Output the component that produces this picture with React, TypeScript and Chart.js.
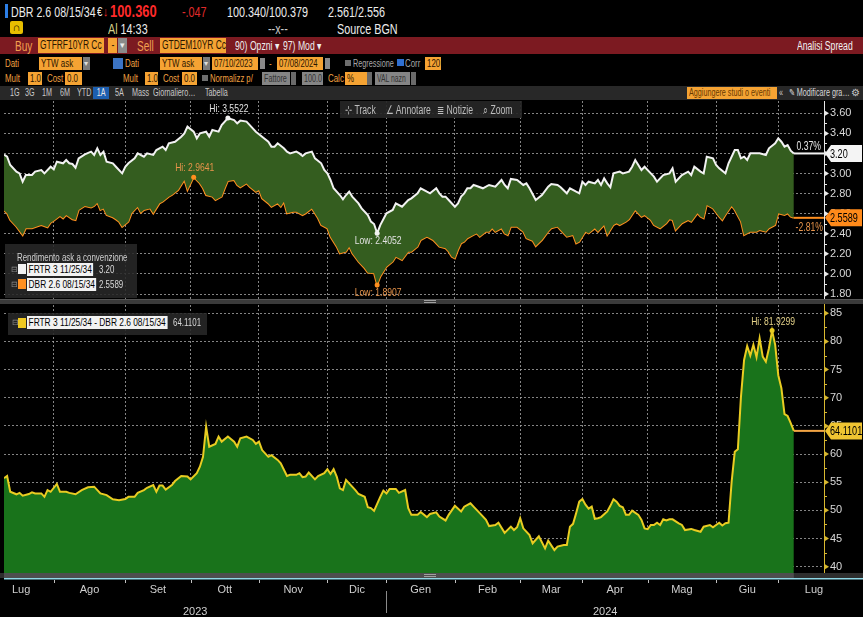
import React, { useEffect, useRef } from 'react';
import { Chart, registerables } from 'chart.js';

Chart.register(...registerables);

// Business-day index (TARGET calendar), day 0 = 10 Jul 2023, last = 8 Jul 2024
const frtrYield: [number, number][] = [
  [0, 3.1882], [1, 3.168], [2, 3.085], [4, 3.019], [5, 3.002], [6, 2.919], [7, 2.985], [9, 2.985],
  [10, 3.019], [12, 3.035], [13, 3.002], [15, 3.068], [16, 3.042], [17, 3.118], [19, 3.102], [20, 3.135],
  [21, 3.102], [22, 3.095], [23, 3.058], [24, 3.151], [26, 3.191], [28, 3.218], [29, 3.185], [30, 3.251],
  [31, 3.185], [32, 3.218], [33, 3.118], [35, 3.102], [36, 3.068], [38, 3.002], [39, 3.068], [40, 3.102],
  [42, 3.151], [43, 3.201], [45, 3.168], [46, 3.201], [48, 3.185], [49, 3.234], [51, 3.268], [52, 3.234],
  [53, 3.301], [55, 3.317], [57, 3.367], [58, 3.4], [59, 3.467], [61, 3.417], [62, 3.351], [63, 3.4],
  [65, 3.417], [66, 3.367], [67, 3.434], [69, 3.417], [70, 3.483], [72, 3.5522], [74, 3.533], [75, 3.5],
  [76, 3.527], [78, 3.517], [80, 3.45], [81, 3.417], [83, 3.367], [85, 3.317], [86, 3.268], [87, 3.268],
  [88, 3.301], [90, 3.251], [91, 3.218], [92, 3.201], [94, 3.218], [95, 3.201], [96, 3.175], [97, 3.201],
  [99, 3.218], [100, 3.151], [102, 3.102], [103, 3.035], [104, 3.002], [105, 2.936], [106, 2.853], [108, 2.786],
  [109, 2.743], [110, 2.786], [111, 2.819], [112, 2.77], [114, 2.703], [115, 2.653], [117, 2.587], [118, 2.521],
  [119, 2.497], [120, 2.4052], [121, 2.487], [123, 2.604], [125, 2.637], [126, 2.703], [128, 2.67], [130, 2.736],
  [131, 2.753], [133, 2.803], [134, 2.853], [136, 2.819], [137, 2.803], [139, 2.853], [140, 2.803], [141, 2.77],
  [142, 2.77], [143, 2.736], [145, 2.67], [146, 2.703], [147, 2.77], [148, 2.803], [149, 2.853], [150, 2.853],
  [151, 2.886], [152, 2.876], [154, 2.853], [155, 2.869], [156, 2.886], [158, 2.869], [160, 2.936], [161, 2.886],
  [162, 2.853], [163, 2.946], [165, 2.936], [167, 2.886], [168, 2.902], [169, 2.853], [171, 2.736], [173, 2.786],
  [175, 2.869], [176, 2.896], [178, 2.886], [179, 2.863], [181, 2.803], [182, 2.853], [184, 2.819], [185, 2.803],
  [186, 2.919], [187, 2.886], [188, 2.919], [190, 2.902], [191, 2.936], [192, 2.886], [193, 2.952], [194, 2.902],
  [195, 2.863], [196, 3.002], [198, 3.019], [199, 3.002], [201, 3.019], [202, 3.068], [203, 3.135], [205, 3.035],
  [206, 3.068], [208, 3.002], [209, 2.969], [210, 2.919], [212, 2.985], [214, 3.002], [215, 3.052], [216, 2.919],
  [218, 2.985], [220, 3.019], [221, 2.985], [222, 3.068], [224, 3.019], [225, 3.002], [226, 3.168], [228, 3.151],
  [229, 3.085], [230, 3.052], [232, 3.002], [233, 3.102], [235, 3.234], [236, 3.234], [237, 3.151], [238, 3.168],
  [239, 3.135], [240, 3.201], [242, 3.201], [243, 3.201], [245, 3.185], [246, 3.251], [248, 3.301], [249, 3.351],
  [250, 3.317], [251, 3.268], [252, 3.284], [253, 3.228], [254, 3.2],
];

const dbrYield: [number, number][] = [
  [0, 2.6329], [1, 2.604], [2, 2.537], [4, 2.471], [6, 2.388], [7, 2.454], [9, 2.454], [11, 2.477],
  [12, 2.487], [14, 2.464], [15, 2.511], [16, 2.531], [18, 2.577], [19, 2.554], [20, 2.587], [22, 2.544],
  [23, 2.537], [24, 2.637], [26, 2.677], [28, 2.663], [29, 2.677], [30, 2.71], [31, 2.637], [32, 2.653],
  [33, 2.587], [35, 2.564], [36, 2.544], [37, 2.521], [38, 2.471], [40, 2.521], [41, 2.604], [43, 2.67],
  [44, 2.61], [45, 2.637], [47, 2.653], [48, 2.604], [50, 2.703], [51, 2.72], [53, 2.77], [54, 2.786],
  [56, 2.836], [58, 2.936], [59, 2.836], [61, 2.9641], [63, 2.902], [64, 2.853], [65, 2.786], [67, 2.77],
  [68, 2.736], [70, 2.77], [71, 2.853], [72, 2.926], [74, 2.936], [75, 2.886], [76, 2.863], [78, 2.902],
  [79, 2.869], [81, 2.819], [82, 2.836], [83, 2.753], [85, 2.703], [86, 2.67], [88, 2.703], [89, 2.67],
  [90, 2.72], [91, 2.604], [93, 2.62], [94, 2.62], [96, 2.587], [97, 2.604], [99, 2.653], [101, 2.554],
  [102, 2.487], [104, 2.454], [105, 2.371], [107, 2.272], [108, 2.205], [110, 2.222], [111, 2.272], [112, 2.205],
  [114, 2.122], [116, 2.056], [117, 2.013], [119, 2.006], [120, 1.8907], [121, 1.973], [123, 2.072], [125, 2.122],
  [126, 2.172], [128, 2.139], [130, 2.222], [131, 2.222], [133, 2.272], [134, 2.338], [136, 2.371], [137, 2.355],
  [138, 2.338], [139, 2.305], [140, 2.272], [142, 2.255], [143, 2.222], [144, 2.172], [145, 2.155], [146, 2.238],
  [147, 2.305], [148, 2.321], [149, 2.355], [151, 2.388], [152, 2.404], [153, 2.371], [155, 2.421], [156, 2.421],
  [157, 2.454], [158, 2.421], [160, 2.454], [161, 2.404], [162, 2.388], [163, 2.471], [165, 2.471], [167, 2.421],
  [168, 2.355], [170, 2.331], [171, 2.278], [173, 2.338], [175, 2.421], [176, 2.454], [178, 2.471], [179, 2.438],
  [181, 2.371], [183, 2.388], [184, 2.305], [185, 2.321], [187, 2.421], [188, 2.404], [190, 2.454], [191, 2.421],
  [192, 2.454], [193, 2.487], [194, 2.388], [196, 2.487], [197, 2.504], [198, 2.487], [200, 2.521], [201, 2.544],
  [203, 2.637], [205, 2.57], [206, 2.587], [208, 2.537], [209, 2.487], [211, 2.454], [213, 2.504], [214, 2.544],
  [215, 2.537], [216, 2.438], [218, 2.504], [220, 2.537], [221, 2.521], [223, 2.604], [224, 2.57], [225, 2.554],
  [226, 2.687], [228, 2.653], [230, 2.57], [231, 2.537], [232, 2.587], [234, 2.677], [235, 2.637], [237, 2.521],
  [238, 2.388], [240, 2.421], [242, 2.421], [243, 2.438], [245, 2.421], [246, 2.454], [248, 2.487], [249, 2.604],
  [251, 2.587], [252, 2.604], [253, 2.57], [254, 2.5589],
];

// FRTR - DBR spread, basis points
const spreadBp: [number, number][] = [
  [0, 55.7], [1, 56.1], [2, 53.3], [4, 52.85], [5, 53.1], [6, 52.6], [8, 52.9], [9, 53.2],
  [10, 53.0], [12, 53.0], [13, 52.4], [14, 53.6], [15, 53.3], [17, 54.7], [18, 53.3], [20, 53.3],
  [21, 53.1], [23, 52.85], [25, 53.6], [27, 54.1], [29, 54.2], [31, 53.0], [33, 52.7], [35, 51.95],
  [37, 51.8], [39, 52.0], [40, 52.4], [42, 52.4], [43, 53.1], [45, 53.6], [46, 54.0], [48, 54.5],
  [49, 53.3], [50, 54.4], [51, 54.4], [52, 53.7], [54, 54.5], [55, 55.2], [57, 56.1], [59, 56.0],
  [60, 55.5], [62, 56.6], [63, 57.75], [64, 59.5], [65, 64.85], [66, 61.3], [68, 61.8], [69, 63.1],
  [70, 62.2], [72, 63.1], [74, 62.2], [75, 61.3], [76, 62.8], [78, 63.1], [80, 62.5], [81, 61.8],
  [82, 62.2], [83, 60.7], [85, 59.5], [86, 59.8], [88, 58.95], [89, 58.35], [91, 56.1], [92, 56.3],
  [94, 56.3], [95, 56.6], [96, 55.9], [97, 56.0], [98, 56.7], [100, 55.5], [101, 56.1], [103, 56.6],
  [104, 57.3], [105, 56.45], [106, 57.3], [107, 56.0], [108, 53.9], [109, 53.6], [110, 55.4], [111, 54.8],
  [113, 53.6], [114, 52.9], [116, 52.4], [117, 50.55], [118, 50.4], [119, 49.9], [121, 52.4], [122, 53.5],
  [123, 53.0], [124, 53.8], [126, 53.8], [127, 53.1], [129, 53.6], [130, 50.4], [131, 49.2], [133, 49.2],
  [134, 49.7], [136, 48.8], [137, 49.35], [139, 49.65], [140, 48.9], [142, 48.2], [143, 49.2], [145, 50.8],
  [147, 49.8], [148, 50.65], [150, 51.25], [151, 50.65], [153, 49.5], [155, 48.3], [156, 47.2], [158, 47.4],
  [159, 47.8], [161, 46.0], [163, 47.1], [164, 46.5], [165, 47.0], [166, 48.6], [167, 46.8], [169, 45.6],
  [170, 44.15], [172, 45.4], [174, 43.25], [175, 44.6], [177, 42.95], [178, 43.55], [180, 43.85], [181, 43.85],
  [182, 47.1], [183, 47.6], [184, 49.5], [185, 51.55], [186, 52.0], [187, 51.0], [188, 50.3], [189, 50.65],
  [190, 48.5], [191, 48.6], [192, 48.8], [194, 49.8], [195, 50.8], [196, 51.95], [197, 51.55], [198, 50.8],
  [199, 50.55], [200, 49.2], [201, 49.2], [202, 49.95], [204, 49.2], [205, 48.3], [206, 46.8], [207, 46.65],
  [208, 47.4], [209, 47.4], [210, 47.8], [211, 47.4], [212, 48.4], [213, 48.2], [214, 48.4], [215, 48.4],
  [217, 47.7], [218, 47.4], [219, 46.5], [221, 46.7], [222, 46.5], [224, 46.2], [225, 47.1], [227, 47.4],
  [228, 47.0], [230, 47.8], [231, 47.3], [232, 47.7], [233, 47.8], [234, 55.1], [235, 60.4], [236, 60.85],
  [237, 70.2], [238, 76.7], [239, 79.2], [240, 77.5], [241, 79.4], [242, 77.2], [243, 80.55], [244, 77.3],
  [245, 76.4], [246, 78.8], [247, 81.9299], [248, 79.4], [249, 74.0], [250, 71.7], [251, 67.1], [252, 66.75],
  [253, 65.5], [254, 64.1101],
];

// Calendar axis: first business day of each month, and month names
const monthStarts = [16, 39, 60, 82, 104, 123, 145, 166, 186, 207, 229, 249];
const monthEdges = [-5, ...monthStarts, 272];
const monthLabels = ['Lug', 'Ago', 'Set', 'Ott', 'Nov', 'Dic', 'Gen', 'Feb', 'Mar', 'Apr', 'Mag', 'Giu', 'Lug'];
const yearLabels = ['2023', '2024'];
const yieldTicks = [1.8, 2.0, 2.2, 2.4, 2.6, 2.8, 3.0, 3.2, 3.4, 3.6];
const spreadTicks = [40, 45, 50, 55, 60, 65, 70, 75, 80, 85];

const X_MAX = 263.7;
const YIELD_MIN = 1.7305;
const YIELD_MAX = 3.7225;
const BP_MIN = 38.87;
const BP_MAX = 87.18;

// Arial-metric face, horizontally condensed to a terminal-style narrow look
const FONT = "'Liberation Sans', Arial, sans-serif";
const K = 0.72;
const WHITE = '#f2f2f2';
const ORANGE = '#ff8f1f';
const YELLOW = '#e9cc22';
const GRID = 'rgba(165,165,165,0.8)';
const FILL_TOP = '#345d1f';
const FILL_BOT = '#19731b';
const FIELD = '#f5a333';
const LABEL_OR = '#f0a040';

const yearEdges = [0, 123, X_MAX];
const monthMids = monthEdges.slice(0, -1).map((b, i) => (b + monthEdges[i + 1]) / 2);
const yearMids = yearEdges.slice(0, -1).map((b, i) => (b + yearEdges[i + 1]) / 2);
const xTicks = [...monthStarts, ...monthMids].sort((a, b) => a - b);
const startSet = new Set(monthStarts);

const lastOf = (s: [number, number][]) => s[s.length - 1][1];
const firstOf = (s: [number, number][]) => s[0][1];
const toXY = (s: [number, number][]) => s.map(([x, y]) => ({ x, y }));
const pct = (s: [number, number][]) => ((lastOf(s) / firstOf(s) - 1) * 100).toFixed(2) + '%';

// condensed canvas text
const narrow = (ctx: any, text: string, x: number, y: number, k = K) => {
  ctx.save();
  ctx.translate(x, y);
  ctx.scale(k, 1);
  ctx.fillText(text, 0, 0);
  ctx.restore();
};

const decor = {
  id: 'decor',
  afterDatasetsDraw(chart: any) {
    const { ctx, chartArea: ca, scales } = chart;
    const { x, yT, yB } = scales;
    const endX = x.getPixelForValue(frtrYield[frtrYield.length - 1][0]);
    ctx.save();
    const hline = (y: number, color: string) => {
      ctx.strokeStyle = color;
      ctx.lineWidth = 2;
      ctx.beginPath();
      ctx.moveTo(endX, y);
      ctx.lineTo(ca.right, y);
      ctx.stroke();
    };
    const frY = yT.getPixelForValue(lastOf(frtrYield));
    const deY = yT.getPixelForValue(lastOf(dbrYield));
    hline(frY, WHITE);
    hline(deY, ORANGE);
    hline(yB.getPixelForValue(lastOf(spreadBp)), '#f2a444');

    ctx.textAlign = 'right';
    ctx.font = `12px ${FONT}`;
    ctx.textBaseline = 'bottom';
    ctx.fillStyle = '#e6e6e6';
    narrow(ctx, pct(frtrYield), ca.right - 3, frY - 1);
    ctx.textBaseline = 'top';
    ctx.fillStyle = '#e8944a';
    narrow(ctx, pct(dbrYield), ca.right - 1, deY + 4);
    ctx.restore();
  },
  afterDraw(chart: any) {
    const { ctx, chartArea: ca, scales, width } = chart;
    const { x, yT, yB } = scales;
    const endX = x.getPixelForValue(frtrYield[frtrYield.length - 1][0]);
    ctx.save();

    // panel divider with grip
    const dy = yT.bottom;
    ctx.fillStyle = '#3a3a3a';
    ctx.fillRect(0, dy - 2, width, 5);
    ctx.fillStyle = '#555';
    ctx.fillRect(0, dy - 2, width, 1);
    ctx.fillStyle = '#a0a0a0';
    ctx.fillRect(424, dy - 1, 12, 1);
    ctx.fillRect(424, dy + 1, 12, 1);

    // scroll bar under the lower panel
    ctx.fillStyle = '#2e2e2e';
    ctx.fillRect(0, ca.bottom, width, 5);
    ctx.fillStyle = '#4e4e4e';
    ctx.fillRect(ca.left, ca.bottom, endX - ca.left, 5);
    ctx.fillStyle = '#a0a0a0';
    ctx.fillRect(424, ca.bottom + 1, 12, 1);
    ctx.fillRect(424, ca.bottom + 3, 12, 1);
    ctx.fillStyle = '#8fd8e6';
    ctx.fillRect(ca.left, ca.bottom + 5, width - ca.left, 1.5);

    // month tick marks and year separator
    ctx.strokeStyle = '#c0c0c0';
    ctx.lineWidth = 1;
    monthStarts.forEach((m) => {
      const px = Math.round(x.getPixelForValue(m)) + 0.5;
      ctx.beginPath();
      ctx.moveTo(px, ca.bottom + 7);
      ctx.lineTo(px, ca.bottom + 10);
      ctx.stroke();
    });
    const sep = Math.round(x.getPixelForValue(yearEdges[1])) + 0.5;
    ctx.strokeStyle = '#8a8a8a';
    ctx.beginPath();
    ctx.moveTo(sep, ca.bottom + 18);
    ctx.lineTo(sep, ca.bottom + 40);
    ctx.stroke();

    // extremes: dot and label
    ctx.font = `11px ${FONT}`;
    ctx.textAlign = 'center';
    ctx.textBaseline = 'middle';
    const mark = (s: [number, number][], scale: any, kind: string, dot: string, tc: string) => {
      const vals = s.map((p) => p[1]);
      const v = kind === 'Hi' ? Math.max(...vals) : Math.min(...vals);
      const i = vals.indexOf(v);
      const px = x.getPixelForValue(s[i][0]);
      const py = scale.getPixelForValue(v);
      ctx.fillStyle = dot;
      ctx.beginPath();
      ctx.arc(px, py, 2.5, 0, Math.PI * 2);
      ctx.fill();
      ctx.fillStyle = tc;
      narrow(ctx, `${kind}: ${v.toFixed(4)}`, px + 1, kind === 'Hi' ? py - 9 : py + 8, 0.78);
    };
    mark(frtrYield, yT, 'Hi', WHITE, '#e2e2e2');
    mark(frtrYield, yT, 'Low', WHITE, '#e2e2e2');
    mark(dbrYield, yT, 'Hi', ORANGE, '#e8944a');
    mark(dbrYield, yT, 'Low', ORANGE, '#e8944a');
    mark(spreadBp, yB, 'Hi', YELLOW, '#e6d38a');

    // arrow tick markers on the value axes
    const axisMarks = (s: any, vals: number[], color: string) => {
      ctx.fillStyle = color;
      ctx.strokeStyle = color;
      vals.forEach((v, i) => {
        const py = s.getPixelForValue(v);
        ctx.beginPath();
        ctx.moveTo(ca.right + 1, py - 2.5);
        ctx.lineTo(ca.right + 5, py);
        ctx.lineTo(ca.right + 1, py + 2.5);
        ctx.closePath();
        ctx.fill();
        if (i < vals.length - 1) {
          const my = Math.round(s.getPixelForValue((v + vals[i + 1]) / 2)) + 0.5;
          ctx.beginPath();
          ctx.moveTo(ca.right, my);
          ctx.lineTo(ca.right + 3, my);
          ctx.stroke();
        }
      });
    };
    axisMarks(yT, yieldTicks, '#e8e8e8');
    axisMarks(yB, spreadTicks, '#d8b830');

    // last-value tags
    const tag = (y: number, text: string, bg: string) => {
      const l = ca.right + 1;
      const r = width - 1;
      const h = 17;
      ctx.fillStyle = bg;
      ctx.beginPath();
      ctx.moveTo(l, y);
      ctx.lineTo(l + 6, y - h / 2);
      ctx.lineTo(r, y - h / 2);
      ctx.lineTo(r, y + h / 2);
      ctx.lineTo(l + 6, y + h / 2);
      ctx.closePath();
      ctx.fill();
      ctx.fillStyle = '#000';
      ctx.font = `13px ${FONT}`;
      ctx.textAlign = 'left';
      ctx.textBaseline = 'middle';
      narrow(ctx, text, l + 5, y + 0.5, 0.7);
    };
    tag(yT.getPixelForValue(lastOf(frtrYield)), lastOf(frtrYield).toFixed(2), '#f4f4f4');
    tag(yT.getPixelForValue(lastOf(dbrYield)), lastOf(dbrYield).toFixed(4), '#ff8a1a');
    tag(yB.getPixelForValue(lastOf(spreadBp)), lastOf(spreadBp).toFixed(4), '#f0c432');
    ctx.restore();
  },
};

function T(p: any) {
  const s = p.s || 11;
  return (
    <div
      style={{
        position: 'absolute',
        left: p.x,
        top: p.y,
        fontSize: s,
        lineHeight: `${s + 2}px`,
        color: p.c || '#d0d0d0',
        whiteSpace: 'nowrap',
        fontWeight: p.b ? 'bold' : 'normal',
      }}
    >
      <span
        style={{
          display: 'inline-block',
          transform: `scaleX(${p.k ?? K})`,
          transformOrigin: '0 0',
          background: p.bg,
          padding: p.bg ? '0 2px' : 0,
        }}
      >
        {p.children}
      </span>
    </div>
  );
}

function Box(p: any) {
  const h = p.h || 13;
  return (
    <div
      style={{
        position: 'absolute',
        left: p.x,
        top: p.y,
        width: p.w,
        height: h,
        background: p.bg || FIELD,
        color: p.c || '#2b1500',
        fontSize: p.s || 11,
        lineHeight: `${h}px`,
        paddingLeft: p.pl ?? 2,
        boxSizing: 'border-box',
        overflow: 'hidden',
        whiteSpace: 'nowrap',
        textAlign: p.center ? 'center' : 'left',
        borderRadius: p.r || 0,
      }}
    >
      <span
        style={{
          display: 'inline-block',
          transform: `scaleX(${p.k ?? K})`,
          transformOrigin: p.center ? '50% 0' : '0 0',
        }}
      >
        {p.children}
      </span>
    </div>
  );
}

export default function App() {
  const ref = useRef<HTMLCanvasElement>(null);

  useEffect(() => {
    document.body.style.margin = '0';
    document.body.style.background = '#000';
    Chart.defaults.font.family = FONT;
    const chart = new Chart(ref.current as HTMLCanvasElement, {
      type: 'line',
      data: {
        datasets: [
          {
            label: 'FRTR 3 11/25/34',
            data: toXY(frtrYield),
            xAxisID: 'x',
            yAxisID: 'yT',
            borderColor: WHITE,
            backgroundColor: FILL_TOP,
            borderWidth: 2,
            pointRadius: 0,
            tension: 0,
            fill: '+1',
          },
          {
            label: 'DBR 2.6 08/15/34',
            data: toXY(dbrYield),
            xAxisID: 'x',
            yAxisID: 'yT',
            borderColor: ORANGE,
            borderWidth: 2,
            pointRadius: 0,
            tension: 0,
            fill: false,
          },
          {
            label: 'FRTR 3 11/25/34 - DBR 2.6 08/15/34',
            data: toXY(spreadBp),
            xAxisID: 'x',
            yAxisID: 'yB',
            borderColor: YELLOW,
            backgroundColor: FILL_BOT,
            borderWidth: 2,
            pointRadius: 0,
            tension: 0,
            fill: 'start',
          },
        ],
      } as any,
      options: {
        animation: false,
        responsive: false,
        layout: { padding: { left: 4, top: 1, right: 0, bottom: 0 } },
        plugins: { legend: { display: false }, tooltip: { enabled: false } },
        scales: {
          x: {
            type: 'linear',
            position: 'bottom',
            min: 0,
            max: X_MAX,
            afterBuildTicks: (s: any) => {
              s.ticks = xTicks.map((v) => ({ value: v }));
            },
            afterFit: (s: any) => {
              s.height = 23;
              s.paddingLeft = 0;
              s.paddingRight = 0;
            },
            ticks: {
              autoSkip: false,
              maxRotation: 0,
              padding: 10,
              color: '#cfcfcf',
              font: { size: 11 },
              callback: (v: any) => {
                const i = monthMids.indexOf(Number(v));
                return i >= 0 ? monthLabels[i] : '';
              },
            },
            grid: {
              drawTicks: false,
              color: (c: any) => (c.tick && startSet.has(c.tick.value) ? GRID : 'rgba(0,0,0,0)'),
            },
            border: { display: false, dash: [2, 2] },
          },
          xYear: {
            type: 'linear',
            position: 'bottom',
            min: 0,
            max: X_MAX,
            afterBuildTicks: (s: any) => {
              s.ticks = yearMids.map((v) => ({ value: v }));
            },
            afterFit: (s: any) => {
              s.height = 21;
              s.paddingLeft = 0;
              s.paddingRight = 0;
            },
            ticks: {
              autoSkip: false,
              maxRotation: 0,
              padding: 1,
              color: '#cfcfcf',
              font: { size: 11 },
              callback: (v: any) => {
                const i = yearMids.indexOf(Number(v));
                return i >= 0 ? yearLabels[i] : '';
              },
            },
            grid: { display: false },
            border: { display: false },
          },
          yT: {
            type: 'linear',
            position: 'right',
            stack: 'panels',
            stackWeight: 200,
            min: YIELD_MIN,
            max: YIELD_MAX,
            afterBuildTicks: (s: any) => {
              s.ticks = yieldTicks.map((v) => ({ value: v }));
            },
            afterFit: (s: any) => {
              s.width = 39;
              s.paddingTop = 0;
              s.paddingBottom = 0;
            },
            ticks: {
              autoSkip: false,
              padding: 6,
              color: '#d8d8d8',
              font: { size: 11 },
              callback: (v: any) => Number(v).toFixed(2),
            },
            grid: { drawTicks: false, color: GRID },
            border: { color: '#e8e8e8', width: 1, dash: [2, 2] },
          },
          yB: {
            type: 'linear',
            position: 'right',
            stack: 'panels',
            stackWeight: 272,
            min: BP_MIN,
            max: BP_MAX,
            afterBuildTicks: (s: any) => {
              s.ticks = spreadTicks.map((v) => ({ value: v }));
            },
            afterFit: (s: any) => {
              s.width = 39;
              s.paddingTop = 0;
              s.paddingBottom = 0;
            },
            ticks: {
              autoSkip: false,
              padding: 6,
              color: '#d8d8d8',
              font: { size: 11 },
              callback: (v: any) => String(v),
            },
            grid: { drawTicks: false, color: GRID },
            border: { color: '#d8b830', width: 1, dash: [2, 2] },
          },
        },
      } as any,
      plugins: [decor],
    });
    return () => chart.destroy();
  }, []);

  return (
    <div
      style={{
        position: 'fixed',
        left: 0,
        top: 0,
        width: 863,
        height: 617,
        background: '#000',
        overflow: 'hidden',
        fontFamily: FONT,
      }}
    >
      {/* quote line */}
      <div style={{ position: 'absolute', left: 5, top: 4, width: 3, height: 14, background: '#2d7fe6' }} />
      <T x={11} y={3} s={15} k={0.71} c="#ececec">DBR 2.6 08/15/34</T>
      <T x={97} y={5} s={12} k={0.8} c="#ececec">€</T>
      <T x={103} y={4} s={13} k={0.8} c="#ff2a2a">↓</T>
      <T x={110} y={2} s={17} k={0.76} c="#ff2a2a" b>100.360</T>
      <T x={182} y={3} s={15} c="#e02a2a">-.047</T>
      <T x={227} y={3} s={15} c="#ececec">100.340/100.379</T>
      <T x={328} y={3} s={15} c="#ececec">2.561/2.556</T>

      <Box x={10} y={21} w={13} h={13} bg="#e8bf00" c="#1a1200" s={11} r={2} center pl={0} k={1}>∩</Box>
      <T x={108} y={20} s={15} c="#ececec"><span style={{ color: '#d6d08a' }}>Al</span> 14:33</T>
      <T x={268} y={20} s={15} c="#c8c8c8">--x--</T>
      <T x={337} y={20} s={15} c="#ececec">Source BGN</T>

      {/* buy / sell bar */}
      <div style={{ position: 'absolute', left: 0, top: 37, width: 863, height: 17, background: '#7c1a21' }} />
      <T x={15} y={38} s={14} c="#f2a050">Buy</T>
      <Box x={38} y={38} w={66} h={15} s={12} k={0.7}>GTFRF10YR Cc</Box>
      <Box x={108} y={38} w={9} h={15} s={12} center pl={0}>-</Box>
      <Box x={118} y={38} w={9} h={15} s={9} bg="#8a8a8a" c="#eee" center pl={0} k={1}>▾</Box>
      <T x={137} y={38} s={14} c="#f2a050">Sell</T>
      <Box x={160} y={38} w={66} h={15} s={12} k={0.7}>GTDEM10YR Cc</Box>
      <T x={235} y={39} s={12} c="#eeeeee">90) Opzni ▾</T>
      <T x={283} y={39} s={12} c="#eeeeee">97) Mod ▾</T>
      <T x={797} y={39} s={12} c="#f2f2f2">Analisi Spread</T>

      {/* data selection rows */}
      <T x={5} y={57} c={LABEL_OR}>Dati</T>
      <Box x={39} y={57} w={43}>YTW ask</Box>
      <Box x={83} y={57} w={7} bg="#7a7a7a" c="#ddd" s={8} pl={1} k={1}>▾</Box>
      <div style={{ position: 'absolute', left: 113, top: 58, width: 10, height: 11, background: '#3c74c4' }} />
      <T x={125} y={57} c={LABEL_OR}>Dati</T>
      <Box x={160} y={57} w={42}>YTW ask</Box>
      <Box x={203} y={57} w={7} bg="#7a7a7a" c="#ddd" s={8} pl={1} k={1}>▾</Box>
      <Box x={212} y={57} w={46} k={0.7}>07/10/2023</Box>
      <Box x={260} y={58} w={5} h={11} bg="#8a8a8a" />
      <T x={269} y={57} c={LABEL_OR}>-</T>
      <Box x={277} y={57} w={46} k={0.7}>07/08/2024</Box>
      <Box x={325} y={58} w={5} h={11} bg="#8a8a8a" />
      <div style={{ position: 'absolute', left: 345, top: 60, width: 6, height: 6, background: '#6e6e6e' }} />
      <T x={353} y={57} k={0.66} c="#a8a8a8">Regressione</T>
      <div style={{ position: 'absolute', left: 397, top: 59, width: 7, height: 7, background: '#2f6fd0' }} />
      <T x={405} y={57} c="#a8a8a8">Corr</T>
      <Box x={425} y={57} w={16}>120</Box>

      <T x={5} y={72} c={LABEL_OR}>Mult</T>
      <Box x={28} y={72} w={14}>1.0</Box>
      <T x={47} y={72} c={LABEL_OR}>Cost</T>
      <Box x={65} y={72} w={17}>0.0</Box>
      <T x={123} y={72} c={LABEL_OR}>Mult</T>
      <Box x={145} y={72} w={13}>1.0</Box>
      <T x={163} y={72} c={LABEL_OR}>Cost</T>
      <Box x={182} y={72} w={15}>0.0</Box>
      <div style={{ position: 'absolute', left: 202, top: 75, width: 6, height: 6, background: '#6e6e6e' }} />
      <T x={210} y={72} k={0.7} c={LABEL_OR}>Normalizz p/</T>
      <Box x={262} y={72} w={28} bg="#858585" c="#333" s={10}>Fattore</Box>
      <Box x={291} y={72} w={5} bg="#6a6a6a" />
      <Box x={302} y={72} w={21} bg="#858585" c="#333" s={10}>100.0</Box>
      <T x={328} y={72} c={LABEL_OR}>Calc</T>
      <Box x={345} y={72} w={22}>%</Box>
      <Box x={367} y={72} w={5} bg="#6a6a6a" />
      <Box x={375} y={72} w={35} bg="#858585" c="#333" s={10} k={0.68}>VAL nazn</Box>
      <Box x={411} y={72} w={5} bg="#6a6a6a" />

      {/* range toolbar */}
      <div style={{ position: 'absolute', left: 0, top: 86, width: 863, height: 14, background: '#282828' }} />
      <T x={10} y={87} s={10} c="#c8c8c8">1G</T>
      <T x={25} y={87} s={10} c="#c8c8c8">3G</T>
      <T x={42} y={87} s={10} c="#c8c8c8">1M</T>
      <T x={60} y={87} s={10} c="#c8c8c8">6M</T>
      <T x={77} y={87} s={10} c="#c8c8c8">YTD</T>
      <Box x={93} y={87} w={16} h={12} bg="#1d5fb0" c="#e8e8e8" s={10} center pl={0}>1A</Box>
      <T x={115} y={87} s={10} c="#c8c8c8">5A</T>
      <T x={132} y={87} s={10} c="#c8c8c8">Mass</T>
      <T x={153} y={87} s={10} c="#c8c8c8">Giornaliero…</T>
      <T x={205} y={87} s={10} c="#c8c8c8">Tabella</T>
      <Box x={687} y={87} w={90} h={12} s={10} c="#6a3a00">Aggiungere studi o eventi</Box>
      <T x={779} y={87} s={10} c="#c8c8c8">«</T>
      <T x={789} y={87} s={10} c="#d8d8d8">✎ Modificare gra…</T>
      <T x={851} y={87} s={10} c="#c8c8c8" k={1}>⚙</T>

      <canvas ref={ref} width={863} height={517} style={{ position: 'absolute', left: 0, top: 100 }} />

      {/* chart tools */}
      <div style={{ position: 'absolute', left: 340, top: 101, width: 182, height: 17, background: 'rgba(38,38,38,0.92)' }} />
      <T x={345} y={103} s={12} c="#bdbdbd">⊹ Track</T>
      <T x={386} y={103} s={12} c="#bdbdbd">∠ Annotare</T>
      <T x={437} y={103} s={12} c="#bdbdbd">≣ Notizie</T>
      <T x={483} y={103} s={12} c="#bdbdbd">⌕ Zoom</T>

      {/* yield legend */}
      <div style={{ position: 'absolute', left: 5, top: 244, width: 132, height: 54, background: 'rgba(40,40,40,0.88)' }} />
      <T x={17} y={251} s={11} c="#d0d0d0">Rendimento ask a convenzione</T>
      <T x={11} y={265} s={8} c="#8a8a8a" k={1}>⊟</T>
      <div style={{ position: 'absolute', left: 18, top: 264, width: 8, height: 10, background: WHITE }} />
      <T x={27} y={263} s={11} k={0.76} c="#000" bg="#f2f2f2">FRTR 3 11/25/34</T>
      <T x={99} y={263} s={11} c="#d8d8d8">{lastOf(frtrYield).toFixed(2)}</T>
      <T x={11} y={280} s={8} c="#8a8a8a" k={1}>⊟</T>
      <div style={{ position: 'absolute', left: 18, top: 279, width: 8, height: 10, background: ORANGE }} />
      <T x={27} y={278} s={11} k={0.76} c="#000" bg="#f2f2f2">DBR 2.6 08/15/34</T>
      <T x={99} y={278} s={11} c="#d8d8d8">{lastOf(dbrYield).toFixed(4)}</T>

      {/* spread legend */}
      <div style={{ position: 'absolute', left: 8, top: 313, width: 199, height: 22, background: 'rgba(40,40,40,0.88)' }} />
      <T x={12} y={318} s={8} c="#8a8a8a" k={1}>⊟</T>
      <div style={{ position: 'absolute', left: 18, top: 318, width: 8, height: 10, background: '#f0c820' }} />
      <T x={27} y={316} s={11} k={0.76} c="#000" bg="#f2f2f2">FRTR 3 11/25/34 - DBR 2.6 08/15/34</T>
      <T x={173} y={316} s={11} c="#d8d8d8">{lastOf(spreadBp).toFixed(4)}</T>
    </div>
  );
}
